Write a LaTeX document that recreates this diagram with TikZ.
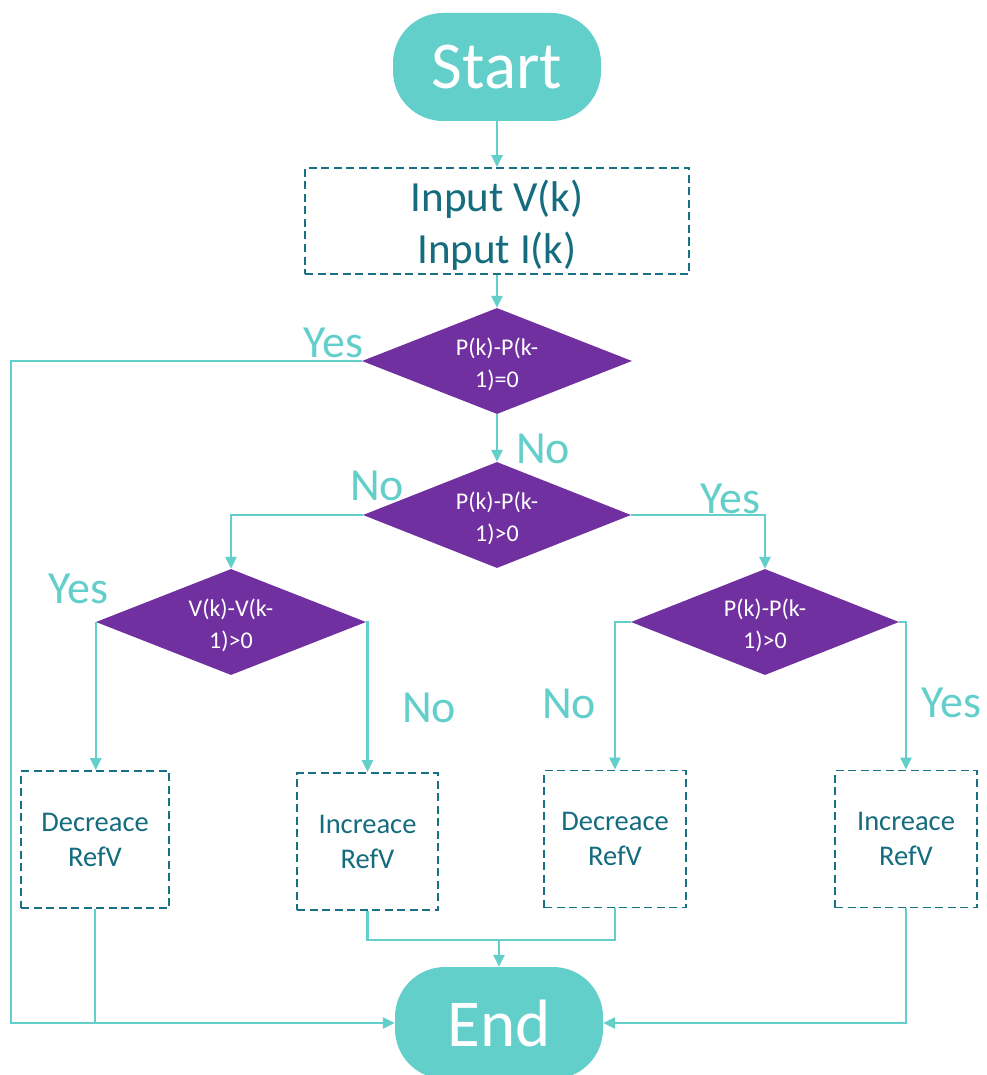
\documentclass[tikz,border=0pt]{standalone}
\usepackage{fontspec}
\setmainfont{Carlito}
\usetikzlibrary{shapes.geometric,arrows.meta}
\definecolor{teal1}{RGB}{99,207,203}
\definecolor{purp}{RGB}{112,48,160}
\definecolor{dteal}{RGB}{24,112,132}
\definecolor{dtext}{RGB}{20,108,126}
\begin{document}
\begin{tikzpicture}[x=1pt,y=-1pt,
 term/.style={rectangle, rounded corners=50pt, fill=teal1, text=white, minimum width=208pt, minimum height=108pt, inner sep=0pt, font=\fontsize{67}{80}\selectfont},
 dec/.style={diamond, aspect=2.55, fill=purp, text=white, minimum width=270pt, minimum height=106pt, inner sep=0pt, align=center, font=\fontsize{24}{32}\selectfont, text height=56pt},
 proc/.style={rectangle, draw=dteal, line width=1.8pt, dash pattern=on 8pt off 4.5pt, text=dtext, align=center, inner sep=0pt},
 small/.style={proc, minimum height=137pt, font=\fontsize{28.5}{35}\selectfont},
 conn/.style={draw=teal1, line width=2.5pt},
 arr/.style={conn, -{Triangle[length=12pt,width=11pt]}},
 lbl/.style={text=teal1, font=\fontsize{46}{50}\selectfont, anchor=base, inner sep=0pt},
]
\fill[white] (0,0) rectangle (986,1075);
\useasboundingbox (0,0) rectangle (986,1075);
\begin{scope}
\clip (0,0) rectangle (986,1075);
% nodes
\node[term] (start) at (497,67) {Start};
\node[proc, minimum width=384pt, minimum height=106pt, font=\fontsize{43}{52}\selectfont, text height=92pt] (inp) at (497,221) {Input V(k)\\Input I(k)};
\node[dec] (d1) at (497,361) {P(k)-P(k-\\1)=0};
\node[dec, minimum width=268pt] (d2) at (497,515) {P(k)-P(k-\\1)>0};
\node[dec] (d3) at (231,622) {V(k)-V(k-\\1)>0};
\node[dec, minimum width=268pt] (d4) at (765,622) {P(k)-P(k-\\1)>0};
\node[small, minimum width=148pt] (dr1) at (95,839.5) {Decreace\\RefV};
\node[small, minimum width=141pt] (ir1) at (367.5,841.5) {Increace\\RefV};
\node[small, minimum width=142pt] (dr2) at (615,839) {Decreace\\RefV};
\node[small, minimum width=142pt] (ir2) at (906,839) {Increace\\RefV};
\node[term, minimum height=112pt] (end) at (499,1023) {End};
% coordinates
\coordinate (lx) at (11,361);
\coordinate (m) at (499,940);
% connectors
\draw[arr] (start.south) -- (inp.north);
\draw[arr] (inp.south) -- (d1.north);
\draw[arr] (d1.west) -- (lx) |- (end.west);
\draw[arr] (d1.south) -- (d2.north);
\draw[arr] (d2.west) -| (d3.north);
\draw[arr] (d2.east) -| (d4.north);
\draw[arr] (d3.west) -- (d3.west |- dr1.north);
\draw[arr] (d3.east) -| (ir1.north);
\draw[arr] (d4.west) -| (dr2.north);
\draw[arr] (d4.east) -| (ir2.north);
\draw[conn] (dr1.south) -- (dr1.south |- end.west);
\draw[conn] (ir1.south) |- (m) -| (dr2.south);
\draw[arr] (m) -- (end.north);
\draw[arr] (ir2.south) |- (end.east);
% labels
\node[lbl] (l1) at (333,357) {Yes};
\node[lbl] (l2) at (543,463) {No};
\node[lbl] (l3) at (377,500) {No};
\node[lbl] (l4) at (730,513) {Yes};
\node[lbl] (l5) at (78,603) {Yes};
\node[lbl] (l6) at (429,722) {No};
\node[lbl] (l7) at (569,718) {No};
\node[lbl] (l8) at (951,717) {Yes};
\end{scope}
\end{tikzpicture}
\end{document}
